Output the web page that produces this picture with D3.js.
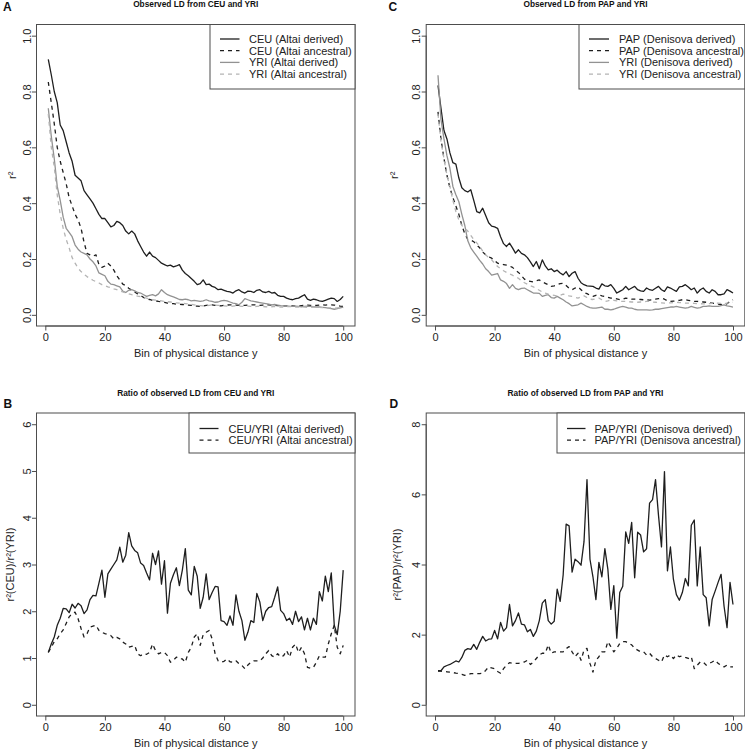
<!DOCTYPE html>
<html><head><meta charset="utf-8">
<script src="https://cdn.jsdelivr.net/npm/d3@7"></script>
<style>
html,body{margin:0;padding:0;background:#fff;}
svg{display:block;font-family:"Liberation Sans",Arial,Helvetica,sans-serif;}
</style></head>
<body><svg id="chart" width="745" height="751"></svg>
<script>
// ---------- DATA ----------
const bins = d3.range(1, 101);
const xTicks = [0, 20, 40, 60, 80, 100];
const ldTicks = [0, 0.2, 0.4, 0.6, 0.8, 1.0];
const ratioTicksB = [0, 1, 2, 3, 4, 5, 6];
const ratioTicksD = [0, 2, 4, 6, 8];

const titleA = "Observed LD from CEU and YRI";
const titleB = "Ratio of observed LD from CEU and YRI";
const titleC = "Observed LD from PAP and YRI";
const titleD = "Ratio of observed LD from PAP and YRI";
const xLabel = "Bin of physical distance y";

const legendA = ["CEU (Altai derived)", "CEU (Altai ancestral)", "YRI (Altai derived)", "YRI (Altai ancestral)"];
const legendC = ["PAP (Denisova derived)", "PAP (Denisova ancestral)", "YRI (Denisova derived)", "YRI (Denisova ancestral)"];
const legendB = ["CEU/YRI (Altai derived)", "CEU/YRI (Altai ancestral)"];
const legendD = ["PAP/YRI (Denisova derived)", "PAP/YRI (Denisova ancestral)"];

const ceuDerived = [0.915,0.86,0.80,0.76,0.68,0.66,0.62,0.58,0.55,0.50,
0.49,0.48,0.445,0.43,0.415,0.40,0.38,0.36,0.345,0.345,
0.33,0.315,0.32,0.335,0.33,0.32,0.30,0.29,0.30,0.29,
0.265,0.245,0.225,0.21,0.225,0.21,0.205,0.195,0.185,0.18,
0.175,0.178,0.172,0.175,0.18,0.16,0.148,0.14,0.13,0.12,
0.108,0.112,0.125,0.108,0.11,0.102,0.098,0.09,0.092,0.088,
0.084,0.082,0.078,0.086,0.09,0.082,0.078,0.085,0.084,0.08,
0.088,0.09,0.082,0.08,0.084,0.078,0.08,0.07,0.066,0.066,
0.06,0.056,0.054,0.058,0.06,0.066,0.072,0.056,0.052,0.056,
0.054,0.05,0.048,0.052,0.056,0.06,0.058,0.048,0.055,0.066];
const ceuAncestral = [0.834,0.76,0.685,0.60,0.55,0.51,0.47,0.42,0.39,0.36,
0.34,0.31,0.26,0.22,0.215,0.21,0.215,0.18,0.17,0.175,
0.185,0.175,0.16,0.14,0.125,0.11,0.105,0.095,0.088,0.082,
0.075,0.07,0.062,0.056,0.055,0.052,0.05,0.048,0.047,0.045,
0.042,0.04,0.04,0.038,0.038,0.037,0.036,0.035,0.034,0.032,
0.031,0.03,0.032,0.034,0.035,0.036,0.034,0.033,0.032,0.034,
0.035,0.036,0.036,0.035,0.034,0.033,0.034,0.035,0.036,0.036,
0.035,0.034,0.035,0.036,0.036,0.035,0.034,0.033,0.033,0.032,
0.032,0.033,0.032,0.031,0.032,0.033,0.034,0.035,0.034,0.033,
0.034,0.035,0.036,0.035,0.036,0.036,0.035,0.033,0.031,0.030];
const yriDerivedA = [0.74,0.64,0.56,0.46,0.41,0.35,0.31,0.295,0.28,0.25,
0.235,0.225,0.22,0.215,0.2,0.19,0.175,0.15,0.145,0.14,
0.12,0.11,0.108,0.104,0.1,0.085,0.08,0.088,0.09,0.086,
0.08,0.078,0.072,0.066,0.07,0.072,0.068,0.075,0.09,0.08,
0.072,0.068,0.064,0.06,0.055,0.054,0.056,0.054,0.05,0.052,
0.05,0.048,0.05,0.054,0.05,0.048,0.045,0.046,0.05,0.052,
0.05,0.046,0.042,0.04,0.036,0.045,0.058,0.054,0.05,0.048,
0.046,0.044,0.042,0.04,0.038,0.036,0.037,0.035,0.033,0.032,
0.032,0.03,0.03,0.031,0.03,0.029,0.03,0.031,0.03,0.029,
0.028,0.028,0.027,0.026,0.024,0.022,0.02,0.022,0.025,0.028];
const yriAncestralA = [0.72,0.60,0.53,0.43,0.36,0.31,0.27,0.24,0.205,0.185,
0.167,0.155,0.145,0.137,0.13,0.124,0.119,0.114,0.108,0.104,
0.1,0.097,0.093,0.09,0.086,0.082,0.078,0.075,0.072,0.07,
0.067,0.065,0.062,0.06,0.057,0.054,0.053,0.051,0.05,0.048,
0.047,0.046,0.044,0.043,0.042,0.041,0.04,0.039,0.038,0.036,
0.034,0.033,0.032,0.033,0.034,0.036,0.035,0.034,0.033,0.032,
0.031,0.03,0.031,0.032,0.031,0.03,0.03,0.031,0.03,0.029,
0.03,0.031,0.03,0.029,0.028,0.029,0.03,0.029,0.028,0.028,
0.029,0.03,0.029,0.028,0.028,0.029,0.028,0.027,0.027,0.028,
0.028,0.027,0.026,0.026,0.025,0.025,0.024,0.025,0.025,0.025];

const papDerived = [0.822,0.74,0.66,0.63,0.58,0.545,0.54,0.49,0.455,0.445,
0.44,0.448,0.41,0.37,0.365,0.382,0.356,0.33,0.318,0.315,
0.31,0.28,0.255,0.245,0.257,0.24,0.221,0.233,0.22,0.215,
0.205,0.19,0.173,0.191,0.165,0.197,0.175,0.161,0.165,0.155,
0.16,0.15,0.143,0.155,0.137,0.149,0.155,0.131,0.115,0.108,
0.104,0.103,0.102,0.096,0.092,0.111,0.104,0.102,0.108,0.095,
0.078,0.084,0.09,0.102,0.09,0.096,0.102,0.09,0.086,0.084,
0.096,0.09,0.088,0.095,0.102,0.09,0.084,0.1,0.096,0.09,
0.084,0.1,0.102,0.108,0.1,0.09,0.096,0.078,0.09,0.096,
0.084,0.078,0.09,0.084,0.072,0.072,0.075,0.09,0.085,0.078];
const papAncestral = [0.727,0.63,0.56,0.5,0.455,0.42,0.39,0.36,0.32,0.29,
0.27,0.268,0.262,0.25,0.24,0.225,0.215,0.208,0.203,0.195,
0.185,0.182,0.18,0.178,0.175,0.17,0.16,0.152,0.14,0.128,
0.122,0.12,0.118,0.122,0.125,0.118,0.113,0.108,0.102,0.104,
0.108,0.112,0.113,0.105,0.095,0.09,0.096,0.1,0.09,0.08,
0.076,0.07,0.066,0.07,0.072,0.068,0.066,0.063,0.06,0.06,
0.057,0.054,0.056,0.06,0.058,0.056,0.056,0.056,0.055,0.054,
0.054,0.053,0.054,0.056,0.058,0.06,0.056,0.05,0.048,0.049,
0.05,0.052,0.054,0.054,0.052,0.05,0.048,0.048,0.047,0.046,
0.045,0.043,0.042,0.04,0.038,0.037,0.036,0.04,0.048,0.054];
const yriDerivedC = [0.858,0.7,0.63,0.57,0.525,0.46,0.43,0.405,0.36,0.32,
0.265,0.24,0.225,0.21,0.195,0.182,0.165,0.155,0.142,0.145,
0.148,0.125,0.12,0.112,0.095,0.108,0.095,0.09,0.095,0.096,
0.09,0.084,0.078,0.078,0.077,0.066,0.07,0.072,0.062,0.06,
0.066,0.06,0.054,0.046,0.04,0.032,0.034,0.036,0.042,0.036,
0.03,0.026,0.024,0.024,0.026,0.028,0.02,0.02,0.018,0.02,
0.024,0.028,0.03,0.028,0.024,0.024,0.02,0.018,0.018,0.018,
0.018,0.017,0.018,0.02,0.02,0.022,0.024,0.026,0.028,0.028,
0.03,0.028,0.026,0.024,0.026,0.03,0.027,0.024,0.026,0.03,
0.03,0.032,0.03,0.03,0.03,0.033,0.036,0.032,0.03,0.028];
const yriAncestralC = [0.72,0.62,0.56,0.5,0.46,0.41,0.37,0.34,0.32,0.31,
0.3,0.285,0.27,0.258,0.245,0.228,0.215,0.205,0.197,0.185,
0.173,0.165,0.158,0.152,0.147,0.142,0.136,0.131,0.122,0.115,
0.11,0.104,0.1,0.094,0.088,0.082,0.078,0.074,0.072,0.07,
0.068,0.07,0.074,0.072,0.068,0.066,0.063,0.06,0.064,0.068,
0.062,0.056,0.055,0.058,0.06,0.054,0.048,0.05,0.054,0.052,
0.05,0.049,0.048,0.048,0.047,0.046,0.046,0.045,0.046,0.047,
0.048,0.048,0.046,0.045,0.044,0.043,0.042,0.042,0.043,0.044,
0.045,0.044,0.043,0.042,0.042,0.042,0.041,0.04,0.04,0.039,
0.039,0.04,0.041,0.042,0.042,0.041,0.04,0.042,0.044,0.045];

const ratioCeuDerived = [1.12,1.3,1.45,1.7,1.85,2.06,2.05,1.97,2.15,2.07,
2.17,2.12,1.95,2.03,2.25,2.34,2.33,2.6,2.88,2.3,
2.8,2.9,3.0,3.1,3.37,3.05,3.2,3.68,3.4,3.3,
3.25,3.03,2.98,2.82,2.67,3.24,3.0,3.29,2.58,3.08,
1.96,2.6,2.78,2.93,2.55,2.88,3.34,2.45,2.35,2.96,
2.75,2.06,2.3,2.8,2.25,2.4,2.53,2.52,1.8,1.78,
1.7,1.9,1.7,2.35,2.0,1.8,1.38,1.55,1.8,1.76,
2.38,2.2,1.8,2.0,2.08,2.1,2.3,2.52,2.02,1.95,
1.8,1.85,1.72,2.0,1.78,1.88,1.6,1.85,1.6,1.85,
1.72,2.42,2.22,2.75,2.42,2.82,1.7,1.5,2.0,2.88];
const ratioCeuAncestral = [1.12,1.23,1.35,1.41,1.52,1.6,1.74,1.88,1.95,1.98,
1.84,1.63,1.45,1.52,1.66,1.68,1.7,1.59,1.55,1.52,
1.5,1.48,1.41,1.44,1.41,1.34,1.3,1.23,1.25,1.27,
1.09,1.05,1.09,1.08,1.12,1.3,1.16,1.09,1.12,1.12,
1.05,0.91,0.95,1.02,0.98,0.98,0.91,1.12,1.23,1.45,
1.52,1.27,1.5,1.55,1.59,1.41,1.09,0.94,0.91,0.93,
0.98,0.92,0.91,0.94,0.88,0.84,0.77,0.85,0.91,0.94,
0.94,0.94,1.0,1.09,1.16,1.05,1.02,1.09,1.02,1.05,
1.16,1.02,1.23,1.3,1.12,1.23,1.09,0.8,0.78,0.8,
0.91,1.05,1.02,1.02,1.3,1.52,1.7,1.23,1.09,1.27];

const ratioPapDerived = [0.97,0.97,1.08,1.12,1.15,1.2,1.25,1.22,1.35,1.55,
1.6,1.58,1.72,1.58,1.78,1.95,1.82,1.87,1.88,2.12,
1.88,2.35,2.1,2.2,2.86,2.25,2.4,2.62,2.3,2.28,
2.08,2.15,1.95,2.1,2.4,2.9,3.0,2.4,2.3,2.38,
3.3,2.95,3.7,5.15,5.1,3.78,4.15,4.08,3.98,4.65,
6.42,4.15,3.65,3.0,4.06,3.65,4.45,3.87,2.72,3.4,
1.9,3.2,3.38,4.93,4.6,5.2,3.62,4.92,4.84,4.36,
4.45,5.75,5.85,6.42,5.4,4.5,6.65,3.82,4.5,3.58,
3.14,2.98,3.2,3.6,3.39,5.12,5.27,3.39,4.5,3.14,
3.05,2.25,3.0,3.24,3.49,3.72,2.81,2.2,3.49,2.86];
const ratioPapAncestral = [0.96,0.96,0.95,0.94,0.93,0.92,0.9,0.89,0.87,0.84,
0.86,0.89,0.89,0.89,0.89,0.9,0.98,1.08,1.05,1.03,
0.95,0.9,1.03,1.13,1.2,1.18,1.18,1.18,1.2,1.22,
1.27,1.15,1.22,1.32,1.42,1.47,1.47,1.71,1.47,1.51,
1.51,1.51,1.51,1.6,1.66,1.51,1.37,1.47,1.27,1.56,
1.61,1.18,0.93,1.27,1.37,1.51,1.51,1.8,1.66,1.51,
1.61,1.75,1.8,1.8,1.75,1.71,1.61,1.56,1.51,1.51,
1.42,1.47,1.37,1.32,1.27,1.22,1.42,1.37,1.42,1.32,
1.42,1.37,1.39,1.35,1.32,1.37,1.03,1.13,1.22,1.22,
1.13,1.18,1.22,1.27,1.18,1.13,1.08,1.13,1.08,1.08];

// ---------- STYLES ----------
const BLACK = "#1e1e1e", GRAY = "#929292", LIGHT = "#b4b4b4", FRAME = "#4d4d4d";
const FONT = 11;

const svg = d3.select("#chart");

function panel(cfg) {
  const x = d3.scaleLinear().domain([-2.96, 103.96]).range([cfg.x0, cfg.x1]);
  const y = d3.scaleLinear().domain(cfg.ydom).range([cfg.y1, cfg.y0]);
  const g = svg.append("g");

  const line = d3.line().x((d, i) => x(bins[i])).y(d => y(d));
  cfg.series.forEach(s => {
    g.append("path").datum(s.values)
      .attr("d", line).attr("fill", "none")
      .attr("stroke", s.color).attr("stroke-width", s.w || 1.3)
      .attr("stroke-dasharray", s.dash ? "4,4" : null)
      .attr("stroke-linejoin", "round");
  });

  g.append("rect").attr("x", cfg.x0).attr("y", cfg.y0)
    .attr("width", cfg.x1 - cfg.x0).attr("height", cfg.y1 - cfg.y0)
    .attr("fill", "none").attr("stroke", FRAME).attr("stroke-width", 1);

  const xa = g.append("g").attr("transform", `translate(0,${cfg.y1})`)
    .call(d3.axisBottom(x).tickValues(xTicks).tickSize(4.5).tickPadding(3).tickFormat(d3.format("d")));
  xa.select(".domain").attr("d", `M${x(xTicks[0])},0H${x(xTicks[xTicks.length-1])}`).attr("stroke", FRAME);
  xa.selectAll(".tick line").attr("stroke", FRAME);
  xa.selectAll("text").attr("font-size", FONT).attr("fill", "#222").attr("font-family", null);

  const ya = g.append("g").attr("transform", `translate(${cfg.x0},0)`)
    .call(d3.axisLeft(y).tickValues(cfg.yticks).tickSize(4.5).tickFormat(cfg.yfmt));
  ya.select(".domain").attr("d", `M0,${y(cfg.yticks[0])}V${y(cfg.yticks[cfg.yticks.length-1])}`).attr("stroke", FRAME);
  ya.selectAll(".tick line").attr("stroke", FRAME);
  ya.selectAll("text").attr("font-size", FONT).attr("fill", "#222").attr("font-family", null)
    .attr("x", null).attr("dy", null)
    .attr("text-anchor", "middle")
    .attr("transform", `translate(-6,0) rotate(-90)`)
    .attr("dy", "0");

  g.append("text").attr("x", (cfg.x0 + cfg.x1) / 2).attr("y", cfg.y1 + 31)
    .attr("text-anchor", "middle").attr("font-size", FONT).attr("fill", "#222").text(xLabel);
  g.append("text")
    .attr("transform", `translate(${cfg.ytx},${(cfg.y0 + cfg.y1) / 2}) rotate(-90)`)
    .attr("text-anchor", "middle").attr("font-size", FONT).attr("fill", "#222").text(cfg.ylab);

  g.append("text").attr("x", (cfg.x0 + cfg.x1) / 2).attr("y", cfg.y0 - 17.5)
    .attr("text-anchor", "middle").attr("font-size", 8.3).attr("font-weight", "bold")
    .attr("fill", "#111").text(cfg.title);
  g.append("text").attr("x", cfg.lx).attr("y", cfg.ly)
    .attr("font-size", 12).attr("font-weight", "bold").attr("fill", "#111").text(cfg.letter);

  const L = cfg.legend;
  g.append("rect").attr("x", L.bx).attr("y", cfg.y0).attr("width", cfg.x1 - L.bx)
    .attr("height", L.bh).attr("fill", "#fff").attr("stroke", FRAME).attr("stroke-width", 1);
  L.labels.forEach((lab, i) => {
    const s = cfg.series[i];
    const yy = cfg.y0 + L.first + i * 11.7;
    g.append("line").attr("x1", L.lx1).attr("x2", L.lx2).attr("y1", yy).attr("y2", yy)
      .attr("stroke", s.color).attr("stroke-width", s.w || 1.3)
      .attr("stroke-dasharray", s.dash ? "4,4" : null);
    g.append("text").attr("x", L.tx).attr("y", yy + 4).attr("font-size", FONT)
      .attr("fill", "#222").text(lab);
  });
}

const f1 = d3.format(".1f"), f0 = d3.format("d");

panel({
  x0: 36.5, x1: 355, y0: 24.5, y1: 326, ydom: [-0.04, 1.04], yticks: ldTicks, yfmt: f1,
  ylab: "r²", ytx: 16, title: titleA, letter: "A", lx: 3, ly: 11,
  series: [
    {values: ceuDerived, color: BLACK},
    {values: ceuAncestral, color: BLACK, dash: true},
    {values: yriDerivedA, color: GRAY},
    {values: yriAncestralA, color: LIGHT, dash: true}
  ],
  legend: {labels: legendA, bx: 210, bh: 64.5, first: 14.5, lx1: 220, lx2: 239.5, tx: 249}
});
panel({
  x0: 426.2, x1: 744.8, y0: 24.5, y1: 326, ydom: [-0.04, 1.04], yticks: ldTicks, yfmt: f1,
  ylab: "r²", ytx: 398, title: titleC, letter: "C", lx: 388.5, ly: 11,
  series: [
    {values: papDerived, color: BLACK},
    {values: papAncestral, color: BLACK, dash: true},
    {values: yriDerivedC, color: GRAY},
    {values: yriAncestralC, color: LIGHT, dash: true}
  ],
  legend: {labels: legendC, bx: 579, bh: 64.5, first: 14.5, lx1: 589, lx2: 609, tx: 619}
});
panel({
  x0: 36.5, x1: 355, y0: 413, y1: 716, ydom: [-0.24, 6.24], yticks: ratioTicksB, yfmt: f0,
  ylab: "r²(CEU)/r²(YRI)", ytx: 14, title: titleB, letter: "B", lx: 3.5, ly: 407.5,
  series: [
    {values: ratioCeuDerived, color: BLACK},
    {values: ratioCeuAncestral, color: BLACK, dash: true}
  ],
  legend: {labels: legendB, bx: 189, bh: 40, first: 15.5, lx1: 199.5, lx2: 218.5, tx: 228.5}
});
panel({
  x0: 426.2, x1: 744.8, y0: 413, y1: 716, ydom: [-0.32, 8.32], yticks: ratioTicksD, yfmt: f0,
  ylab: "r²(PAP)/r²(YRI)", ytx: 401, title: titleD, letter: "D", lx: 389.5, ly: 407.5,
  series: [
    {values: ratioPapDerived, color: BLACK},
    {values: ratioPapAncestral, color: BLACK, dash: true}
  ],
  legend: {labels: legendD, bx: 557, bh: 40, first: 15.5, lx1: 567, lx2: 585.5, tx: 594.5}
});
</script></body></html>
